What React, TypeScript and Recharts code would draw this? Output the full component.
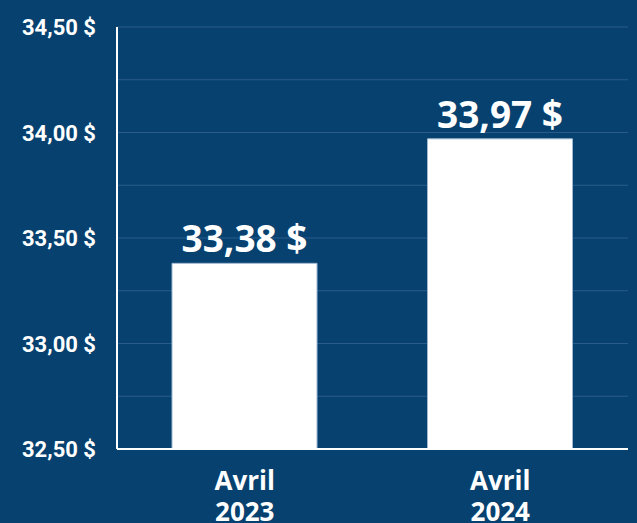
import { BarChart, Bar, XAxis, YAxis, CartesianGrid, LabelList } from "recharts";

const categories = ["Avril 2023", "Avril 2024"];
const prices = [33.38, 33.97];
const yTicks = [32.5, 32.75, 33, 33.25, 33.5, 33.75, 34, 34.25, 34.5];

const data = categories.map((c, i) => ({ name: c, price: prices[i] }));

const fmt = (v: number) => v.toFixed(2).replace(".", ",") + " $";

function YTick({ x, y, payload }: any) {
  const v = payload.value as number;
  if (Math.round(v * 100) % 50 !== 0) return null;
  return (
    <text
      x={x - 13}
      y={y}
      dy={8}
      textAnchor="end"
      fill="#ffffff"
      fontFamily="Roboto"
      fontWeight={700}
      fontSize={22}
    >
      {fmt(v)}
    </text>
  );
}

function XTick({ x, y, payload }: any) {
  const parts = String(payload.value).split(" ");
  return (
    <text
      x={x}
      textAnchor="middle"
      fill="#ffffff"
      fontFamily="Open Sans"
      fontWeight={700}
      fontSize={26}
    >
      <tspan x={x} y={y + 33}>{parts[0]}</tspan>
      <tspan x={x} y={y + 64}>{parts[1]}</tspan>
    </text>
  );
}

function ValueLabel({ x, y, width, value }: any) {
  return (
    <text
      x={x + width / 2}
      y={y - 11}
      textAnchor="middle"
      fill="#ffffff"
      fontFamily="Open Sans"
      fontWeight={700}
      fontSize={37}
    >
      {fmt(value)}
    </text>
  );
}

export default function App() {
  return (
    <div style={{ width: 637, height: 523, background: "#06416f" }}>
      <style>{`body{margin:0}`}</style>
      <BarChart
        width={637}
        height={523}
        data={data}
        margin={{ top: 27, right: 9, bottom: 0, left: 0 }}
        barCategoryGap={55}
      >
        <CartesianGrid vertical={false} stroke="#2a5c8b" strokeWidth={1} />
        <XAxis
          dataKey="name"
          axisLine={{ stroke: "#ffffff", strokeWidth: 2 }}
          tickLine={false}
          tick={<XTick />}
          height={74}
          interval={0}
        />
        <YAxis
          domain={[32.5, 34.5]}
          ticks={yTicks}
          axisLine={{ stroke: "#ffffff", strokeWidth: 2 }}
          tickLine={false}
          tick={<YTick />}
          width={117}
          interval={0}
        />
        <Bar
          dataKey="price"
          fill="#ffffff"
          stroke="#9fb8d0"
          strokeWidth={1}
          barSize={145}
          isAnimationActive={false}
        >
          <LabelList dataKey="price" content={<ValueLabel />} />
        </Bar>
      </BarChart>
    </div>
  );
}
